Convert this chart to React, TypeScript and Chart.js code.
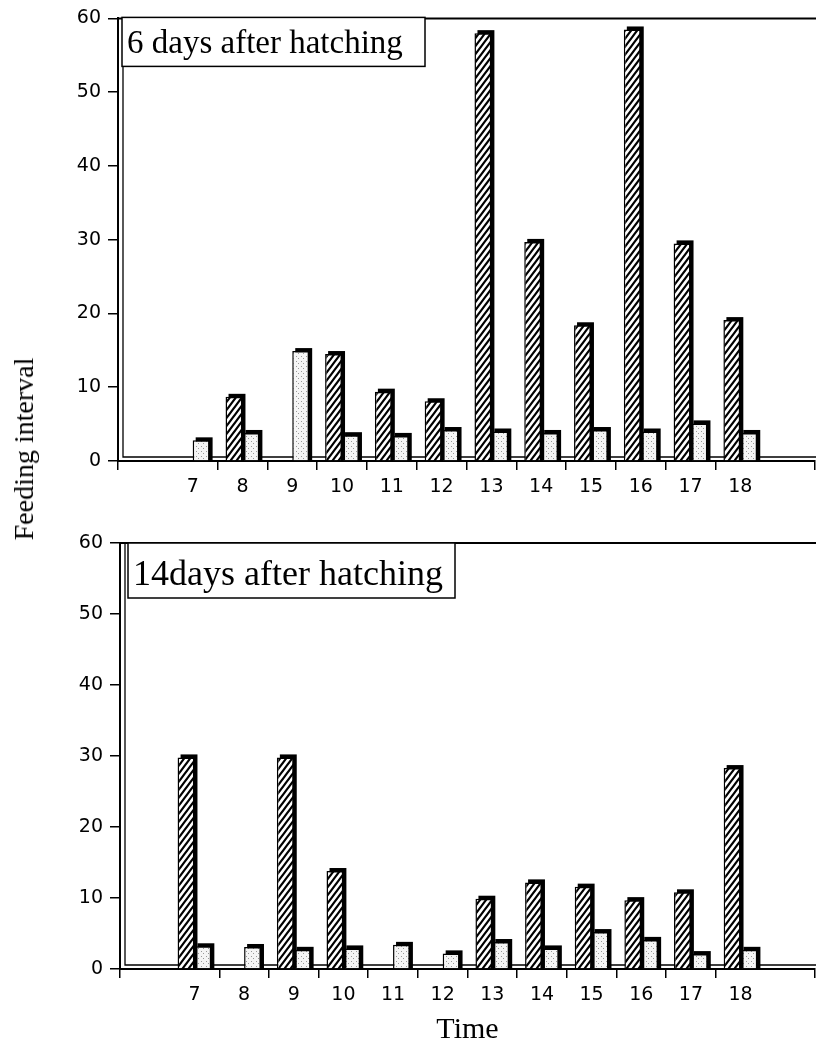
import React, { useEffect, useRef } from 'react';
import { Chart, registerables } from 'chart.js';

Chart.register(...registerables);

// ---- data ----
const categories = ['', '7', '8', '9', '10', '11', '12', '13', '14', '15', '16', '17', '18', ''];
const yMin = 0;
const yMax = 60;
const yStep = 10;
const day6Hatched = [null, 0, 8.7, 0, 14.5, 9.4, 8.1, 58.0, 29.7, 18.4, 58.5, 29.5, 19.1, null];
const day6Dotted = [null, 2.8, 3.8, 14.9, 3.5, 3.4, 4.2, 4.0, 3.8, 4.2, 4.0, 5.1, 3.8, null];
const day14Hatched = [null, 29.8, 0, 29.8, 13.8, 0, 0, 9.9, 12.2, 11.6, 9.7, 10.8, 28.3, null];
const day14Dotted = [null, 3.2, 3.1, 2.7, 2.9, 3.4, 2.2, 3.8, 2.9, 5.2, 4.1, 2.1, 2.7, null];
const panelTitles = ['6 days after hatching', '14days after hatching'];
const xTitle = 'Time';
const yTitle = 'Feeding interval';

function makeHatch(): CanvasPattern | string {
  const w = 6, h = 8;
  const c = document.createElement('canvas');
  c.width = w; c.height = h;
  const g = c.getContext('2d');
  if (!g) return '#fff';
  g.fillStyle = '#fff';
  g.fillRect(0, 0, w, h);
  g.strokeStyle = '#000';
  g.lineWidth = 2.2;
  g.beginPath();
  for (const k of [-1, 0, 1]) {
    g.moveTo(k * w - w * 0.5, h * 1.5);
    g.lineTo(k * w + w * 1.5, -h * 0.5);
  }
  g.stroke();
  return g.createPattern(c, 'repeat') || '#fff';
}

function makeDots(): CanvasPattern | string {
  const s = 5;
  const c = document.createElement('canvas');
  c.width = s; c.height = s;
  const g = c.getContext('2d');
  if (!g) return '#eee';
  g.fillStyle = '#f5f5f5';
  g.fillRect(0, 0, s, s);
  g.fillStyle = '#999';
  g.fillRect(1, 1, 1, 1);
  g.fillRect(3, 3, 1, 1);
  return g.createPattern(c, 'repeat') || '#eee';
}

const shadowPlugin = {
  id: 'barShadow',
  beforeDatasetDraw(chart: any, args: any) {
    const ctx = chart.ctx;
    ctx.save();
    ctx.fillStyle = '#000';
    args.meta.data.forEach((bar: any) => {
      const p = bar.getProps(['x', 'y', 'base', 'width'], true);
      if (!isFinite(p.y) || p.base - p.y < 0.5) return;
      const left = p.x - p.width / 2;
      ctx.fillRect(left + 3, p.y - 3, p.width, p.base - p.y + 3);
    });
    ctx.restore();
  },
};

const framePlugin = {
  id: 'frame3d',
  beforeDatasetsDraw(chart: any) {
    const { ctx, chartArea: a } = chart;
    ctx.save();
    ctx.strokeStyle = '#000';
    ctx.lineWidth = 2;
    ctx.beginPath();
    ctx.moveTo(a.left, a.top);
    ctx.lineTo(a.right + 2, a.top);
    ctx.stroke();
    ctx.lineWidth = 1.3;
    ctx.beginPath();
    ctx.moveTo(a.left + 5, a.top);
    ctx.lineTo(a.left + 5, a.bottom - 4);
    ctx.lineTo(a.right + 2, a.bottom - 4);
    ctx.stroke();
    ctx.restore();
  },
};

const boxPlugin = {
  id: 'panelBox',
  afterDatasetsDraw(chart: any, _args: any, opts: any) {
    if (!opts || !opts.text) return;
    const { ctx, chartArea: a } = chart;
    const x = a.left + opts.dx;
    const y = a.top + opts.dy;
    ctx.save();
    ctx.fillStyle = '#fff';
    ctx.fillRect(x, y, opts.w, opts.h);
    ctx.strokeStyle = '#000';
    ctx.lineWidth = 1.5;
    ctx.strokeRect(x, y, opts.w, opts.h);
    ctx.fillStyle = '#000';
    ctx.font = `${opts.size}px "Liberation Serif", "DejaVu Serif", serif`;
    ctx.textBaseline = 'alphabetic';
    ctx.textAlign = 'left';
    ctx.fillText(opts.text, x + 5, y + opts.base);
    ctx.restore();
  },
};

type PanelProps = {
  hatched: (number | null)[];
  dotted: (number | null)[];
  title: string;
  top: number;
  height: number;
  padTop: number;
  yWidth: number;
  xHeight: number;
  showTime: boolean;
  box: { dx: number; dy: number; w: number; h: number; size: number; base: number };
};

function Panel(props: PanelProps) {
  const ref = useRef<HTMLCanvasElement>(null);
  useEffect(() => {
    if (!ref.current) return;
    const hatch = makeHatch();
    const dots = makeDots();
    const tickFont = { family: '"DejaVu Sans", sans-serif', size: 19 };
    const chart = new Chart(ref.current, {
      type: 'bar',
      data: {
        labels: categories,
        datasets: [
          {
            label: 'hatched',
            data: props.hatched as any,
            backgroundColor: hatch as any,
            borderColor: '#000',
            borderWidth: 1.5,
          },
          {
            label: 'dotted',
            data: props.dotted as any,
            backgroundColor: dots as any,
            borderColor: '#000',
            borderWidth: 1.5,
          },
        ],
      },
      options: {
        responsive: false,
        animation: false,
        layout: { padding: { top: props.padTop, right: 1, left: 0, bottom: 0 } },
        datasets: { bar: { categoryPercentage: 0.68, barPercentage: 1 } },
        plugins: {
          legend: { display: false },
          tooltip: { enabled: false },
          title: { display: false },
          panelBox: { text: props.title, ...props.box },
        } as any,
        scales: {
          x: {
            type: 'category',
            offset: true,
            grid: {
              offset: true,
              drawOnChartArea: false,
              drawTicks: true,
              tickLength: 9,
              lineWidth: 1.5,
              color: (c: any) =>
                c.index === 1 || c.index === categories.length - 1 ? 'rgba(0,0,0,0)' : '#000',
            },
            border: { display: true, color: '#000', width: 2 },
            ticks: { color: '#000', font: tickFont, padding: 6, maxRotation: 0, autoSkip: false },
            title: props.showTime
              ? {
                  display: true,
                  text: xTitle,
                  color: '#000',
                  font: { family: '"Liberation Serif", serif', size: 30, lineHeight: 1.1 },
                  padding: { top: 0, bottom: 0 },
                }
              : { display: false },
            afterFit: (s: any) => {
              s.height = props.xHeight;
            },
          },
          y: {
            min: yMin,
            max: yMax,
            ticks: { stepSize: yStep, color: '#000', font: tickFont, padding: 7 },
            grid: { drawOnChartArea: false, tickLength: 10, lineWidth: 1.5, color: '#000' },
            border: { display: true, color: '#000', width: 2 },
            afterFit: (s: any) => {
              s.width = props.yWidth;
            },
          },
        },
      },
      plugins: [framePlugin, shadowPlugin, boxPlugin],
    });
    return () => chart.destroy();
  }, []);
  return (
    <canvas
      ref={ref}
      width={816}
      height={props.height}
      style={{ position: 'absolute', left: 0, top: props.top, width: 816, height: props.height }}
    />
  );
}

export default function App() {
  return (
    <div
      style={{
        position: 'absolute',
        left: 0,
        top: 0,
        width: 816,
        height: 1047,
        background: '#fff',
        overflow: 'hidden',
      }}
    >
      <Panel
        hatched={day6Hatched}
        dotted={day6Dotted}
        title={panelTitles[0]}
        top={0}
        height={500}
        padTop={14}
        yWidth={118}
        xHeight={39}
        showTime={false}
        box={{ dx: 4, dy: -1, w: 303, h: 49, size: 33, base: 36 }}
      />
      <Panel
        hatched={day14Hatched}
        dotted={day14Dotted}
        title={panelTitles[1]}
        top={500}
        height={547}
        padTop={43}
        yWidth={120}
        xHeight={78}
        showTime={true}
        box={{ dx: 8, dy: 0, w: 327, h: 55, size: 36, base: 42 }}
      />
      <div
        style={{
          position: 'absolute',
          left: 24,
          top: 449,
          transform: 'translate(-50%, -50%) rotate(-90deg)',
          whiteSpace: 'nowrap',
          fontFamily: '"Liberation Serif", serif',
          fontSize: 28,
          lineHeight: '32px',
          color: '#000',
        }}
      >
        {yTitle}
      </div>
    </div>
  );
}
